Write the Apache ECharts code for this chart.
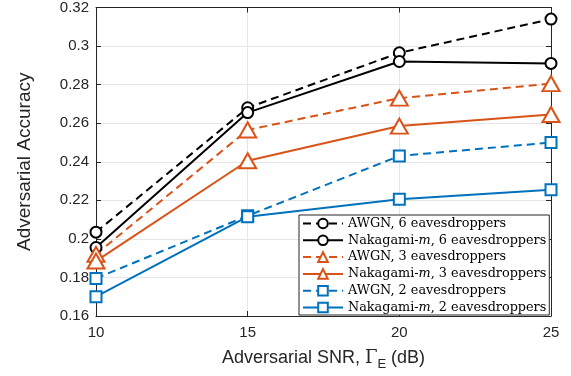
<!DOCTYPE html>
<html>
<head>
<meta charset="utf-8">
<script src="https://cdn.jsdelivr.net/npm/echarts@6/dist/echarts.min.js"></script>
<style>
html,body{margin:0;padding:0;background:#fff;}
#chart{width:571px;height:376px;}
</style>
</head>
<body>
<div id="chart"></div>
<script>
var snr = [10, 15, 20, 25];
var awgn6 = [0.2035, 0.268, 0.2965, 0.314];
var naka6 = [0.1955, 0.2655, 0.292, 0.291];
var awgn3 = [0.192, 0.2565, 0.273, 0.2805];
var naka3 = [0.1885, 0.2405, 0.2585, 0.2645];
var awgn2 = [0.1795, 0.212, 0.243, 0.250];
var naka2 = [0.1700, 0.2115, 0.2205, 0.2255];

var names = [
  'AWGN, 6 eavesdroppers', 'Nakagami-m, 6 eavesdroppers',
  'AWGN, 3 eavesdroppers', 'Nakagami-m, 3 eavesdroppers',
  'AWGN, 2 eavesdroppers', 'Nakagami-m, 2 eavesdroppers'
];

function pairs(vals){
  return vals.map(function(v, i){ return [snr[i], v]; });
}

function mkSeries(name, vals, color, dashed, symbol, size){
  return {
    name: name,
    type: 'line',
    data: pairs(vals),
    symbol: symbol,
    symbolSize: size,
    showAllSymbol: true,
    lineStyle: {color: color, width: 2, type: dashed ? [8, 5] : 'solid'},
    itemStyle: {color: color, borderColor: color, borderWidth: 2},
    emphasis: {disabled: true},
    animation: false,
    z: 3
  };
}

var black = '#000000', orange = '#D95319', blue = '#0072BD';

var myChart = echarts.init(document.getElementById('chart'));
var option = {
  backgroundColor: '#fff',
  animation: false,
  grid: {left: 96, right: 20, top: 5, bottom: 58},
  legend: {
    orient: 'vertical',
    left: 299, top: 215,
    backgroundColor: '#fff',
    borderColor: '#262626',
    borderWidth: 1,
    padding: [2, 3, 1, 3],
    itemWidth: 40,
    itemHeight: 12,
    itemGap: 3.8,
    data: names,
    formatter: function(n){
      if (n.indexOf('Nakagami-m') === 0) {
        return '{n|Nakagami-}{i|m}{n|' + n.substring(10) + '}';
      }
      return '{n|' + n + '}';
    },
    textStyle: {
      color: '#000',
      rich: {
        n: {fontFamily: 'DejaVu Serif', fontSize: 12.8, color: '#000'},
        i: {fontFamily: 'DejaVu Serif', fontStyle: 'italic', fontSize: 12.8, color: '#000'}
      }
    }
  },
  xAxis: [{
    type: 'value', min: 10, max: 25, interval: 5,
    name: '{a|Adversarial SNR, }{g|Γ}{s|E}{a| (dB)}',
    nameLocation: 'middle', nameGap: 30,
    nameTextStyle: {
      rich: {
        a: {fontFamily: 'Liberation Sans', fontSize: 18, color: '#262626'},
        g: {fontFamily: 'DejaVu Serif', fontSize: 18, color: '#262626'},
        s: {fontFamily: 'Liberation Sans', fontSize: 13, color: '#262626', padding: [12, 0, 0, 0]}
      }
    },
    axisLine: {lineStyle: {color: '#262626', width: 1}},
    axisTick: {inside: true, length: 5, lineStyle: {color: '#262626'}},
    axisLabel: {fontFamily: 'Liberation Sans', fontSize: 15, color: '#262626', margin: 9},
    splitLine: {show: true, lineStyle: {color: '#e6e6e6', width: 1}}
  }, {
    type: 'value', min: 10, max: 25, interval: 5, position: 'top',
    axisLine: {lineStyle: {color: '#262626', width: 1}},
    axisTick: {inside: true, length: 5, lineStyle: {color: '#262626'}},
    axisLabel: {show: false},
    splitLine: {show: false}
  }],
  yAxis: [{
    type: 'value', min: 0.16, max: 0.32, interval: 0.02,
    name: 'Adversarial Accuracy',
    nameLocation: 'middle', nameGap: 62,
    nameTextStyle: {fontFamily: 'Liberation Sans', fontSize: 19, color: '#262626'},
    axisLine: {show: true, lineStyle: {color: '#262626', width: 1}},
    axisTick: {show: true, inside: true, length: 5, lineStyle: {color: '#262626'}},
    axisLabel: {
      fontFamily: 'Liberation Sans', fontSize: 15, color: '#262626', margin: 7,
      formatter: function(v){ return String(parseFloat(v.toFixed(2))); }
    },
    splitLine: {show: true, lineStyle: {color: '#e6e6e6', width: 1}}
  }, {
    type: 'value', min: 0.16, max: 0.32, interval: 0.02, position: 'right',
    axisLine: {show: true, lineStyle: {color: '#262626', width: 1}},
    axisTick: {show: true, inside: true, length: 5, lineStyle: {color: '#262626'}},
    axisLabel: {show: false},
    splitLine: {show: false}
  }],
  series: [
    mkSeries(names[0], awgn6, black, true, 'emptyCircle', 11),
    mkSeries(names[1], naka6, black, false, 'emptyCircle', 11),
    mkSeries(names[2], awgn3, orange, true, 'emptyTriangle', [17, 15]),
    mkSeries(names[3], naka3, orange, false, 'emptyTriangle', [17, 15]),
    mkSeries(names[4], awgn2, blue, true, 'emptyRect', 11),
    mkSeries(names[5], naka2, blue, false, 'emptyRect', 11)
  ]
};
myChart.setOption(option);
window.addEventListener('resize', function(){
  myChart.resize();
});
</script>
</body>
</html>
